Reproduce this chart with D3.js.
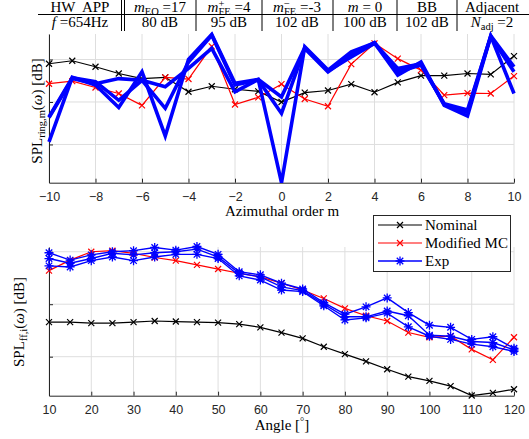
<!DOCTYPE html>
<html>
<head>
<meta charset="utf-8">
<script src="https://cdn.jsdelivr.net/npm/d3@7"></script>
<style>
  body { margin: 0; background: #fff; }
  svg { display: block; }
  .serif, .serif tspan { font-family: "Liberation Serif", "DejaVu Serif", serif; }
</style>
</head>
<body>
<svg id="chart" width="529" height="439"></svg>
<script>
// ---- data ----
const azOrders = [-10, -9, -8, -7, -6, -5, -4, -3, -2, -1, 0, 1, 2, 3, 4, 5, 6, 7, 8, 9, 10];
const ringNominal = [99.0, 99.7, 98.3, 96.7, 95.5, 95.8, 92.4, 93.7, 93.0, 92.5, 90.0, 92.2, 92.7, 94.2, 92.3, 94.6, 96.2, 96.2, 96.7, 96.5, 100.8];
const ringModMC = [94.3, 94.9, 93.4, 92.0, 89.2, 95.8, 95.4, 103.1, 89.4, 91.1, 94.2, 90.7, 89.0, 98.9, 103.8, 100.2, 97.5, 91.6, 92.1, 92.0, 96.1];
const ringExp1 = [80.6, 95.8, 94.0, 88.7, 97.1, 82.0, 100.0, 105.9, 94.4, 95.3, 71.0, 103.0, 97.5, 101.8, 103.9, 96.3, 99.4, 89.2, 86.7, 105.5, 92.0];
const ringExp2 = [86.5, 95.7, 94.8, 90.4, 95.1, 88.5, 99.4, 105.7, 94.0, 95.2, 87.3, 102.6, 97.1, 101.0, 104.0, 97.1, 98.7, 89.6, 88.1, 105.4, 97.1];
const ringExp3 = [86.3, 95.5, 94.3, 95.5, 95.1, 93.6, 97.9, 102.6, 92.4, 95.3, 91.2, 102.8, 97.3, 100.6, 103.8, 97.9, 99.0, 89.4, 87.6, 105.6, 98.3];

const angles = [10, 15, 20, 25, 30, 35, 40, 45, 50, 55, 60, 65, 70, 75, 80, 85, 90, 95, 100, 105, 110, 115, 120];
const ffNominal = [86.6, 86.6, 86.4, 86.4, 86.6, 86.8, 86.7, 86.6, 86.5, 86.2, 85.6, 84.6, 83.5, 81.9, 80.5, 79.1, 77.6, 76.2, 75.4, 74.4, 72.6, 73.1, 73.8];
const ffModMC = [96.4, 98.4, 100.0, 100.2, 99.7, 98.9, 98.3, 97.5, 96.7, 95.9, 95.2, 94.0, 92.7, 91.1, 89.2, 87.8, 86.8, 84.6, 83.7, 83.9, 81.4, 79.4, 83.7];
const ffExp1 = [99.8, 98.4, 99.4, 100.0, 100.2, 100.8, 100.3, 101.0, 99.5, 96.2, 95.6, 94.0, 92.9, 90.3, 88.1, 89.5, 91.2, 88.4, 86.0, 85.6, 83.3, 83.8, 81.6];
const ffExp2 = [98.7, 97.8, 98.7, 99.7, 99.4, 99.8, 100.0, 100.5, 99.0, 95.9, 95.2, 93.3, 92.6, 90.0, 87.6, 87.6, 88.7, 87.8, 84.1, 83.9, 82.9, 82.7, 81.3];
const ffExp3 = [97.3, 97.1, 98.3, 99.0, 98.3, 99.0, 99.5, 99.5, 98.7, 95.4, 94.6, 92.7, 92.4, 89.7, 87.0, 87.4, 88.3, 85.7, 83.9, 83.3, 82.4, 81.9, 81.0];

const ringTicks = [-10, -8, -6, -4, -2, 0, 2, 4, 6, 8, 10];
const angleTicks = [10, 20, 30, 40, 50, 60, 70, 80, 90, 100, 110, 120];
const dbTicks = [80, 90, 100];

const legendNames = ['Nominal', 'Modified MC', 'Exp'];

// table: each cell is a list of text parts (i = italic, s = sub/sup, stack = under previous)
const tableHeader = [
  [{ t: 'HW  APP' }],
  [{ t: 'm', i: true }, { t: 'EO', s: 'sub' }, { t: ' =17' }],
  [{ t: 'm', i: true }, { t: '+', s: 'sup' }, { t: 'FE', s: 'sub', stack: true }, { t: ' =4' }],
  [{ t: 'm', i: true }, { t: '\u2212', s: 'sup' }, { t: 'FE', s: 'sub', stack: true }, { t: ' =-3' }],
  [{ t: 'm', i: true }, { t: ' = 0' }],
  [{ t: 'BB' }],
  [{ t: 'Adjacent' }]
];
const tableValues = [
  [{ t: 'f', i: true }, { t: ' =654Hz' }],
  [{ t: '80 dB' }],
  [{ t: '95 dB' }],
  [{ t: '102 dB' }],
  [{ t: '100 dB' }],
  [{ t: '102 dB' }],
  [{ t: 'N', i: true }, { t: 'adj', s: 'sub' }, { t: ' =2' }]
];

// ---- layout ----
const SANS = '"Liberation Sans", Arial, sans-serif';
const AXIS = '#262626';
const GRID = '#dedede';

const svg = d3.select('#chart');

function rich(sel, parts, x, y, size, anchor) {
  const t = sel.append('text').attr('class', 'serif')
    .attr('font-size', size).attr('fill', '#000').style('white-space', 'pre');
  const spans = parts.map(p => t.append('tspan')
    .text(p.t)
    .attr('font-size', p.s ? size * 0.7 : size)
    .attr('font-style', p.i ? 'italic' : 'normal'));
  let cursor = 0, prevStart = 0;
  const offs = spans.map((s, k) => {
    const w = s.node().getComputedTextLength();
    const start = parts[k].stack ? prevStart : cursor;
    prevStart = start;
    cursor = Math.max(cursor, start + w);
    return start;
  });
  const x0 = anchor === 'middle' ? x - cursor / 2 : x;
  spans.forEach((s, k) => {
    const p = parts[k];
    const dy = p.s === 'sub' ? size * 0.22 : p.s === 'sup' ? -size * 0.32 : 0;
    s.attr('x', x0 + offs[k]).attr('y', y + dy);
  });
  return t;
}

function xMark(g, px, py, color, r) {
  g.append('path')
    .attr('d', `M${px - r},${py - r}L${px + r},${py + r}M${px - r},${py + r}L${px + r},${py - r}`)
    .attr('stroke', color).attr('stroke-width', 1.2).attr('fill', 'none');
}
function starMark(g, px, py, color, r) {
  const a = r * 0.72;
  g.append('path')
    .attr('d', `M${px},${py - r}V${py + r}M${px - r},${py}H${px + r}M${px - a},${py - a}L${px + a},${py + a}M${px - a},${py + a}L${px + a},${py - a}`)
    .attr('stroke', color).attr('stroke-width', 1.3).attr('fill', 'none');
}

// ---- table ----
const colCenters = [80, 160, 229, 297, 365, 427, 492];
const table = svg.append('g');
table.append('line').attr('x1', 38).attr('x2', 529).attr('y1', 14.5).attr('y2', 14.5)
  .attr('stroke', '#000').attr('stroke-width', 1);
[121.5, 124.5, 196, 262, 333, 397, 457].forEach(vx => {
  table.append('line').attr('x1', vx).attr('x2', vx).attr('y1', 0).attr('y2', 31)
    .attr('stroke', '#000').attr('stroke-width', 1);
});
tableHeader.forEach((cell, k) => rich(table, cell, colCenters[k], 11.5, 15, 'middle'));
tableValues.forEach((cell, k) => rich(table, cell, colCenters[k], 27, 15, 'middle'));

// ---- panel helper ----
function panel(opts) {
  const x = d3.scaleLinear().domain(opts.xDomain).range([49, 514]);
  const y = d3.scaleLinear().domain(opts.yDomain).range([opts.bottom, opts.top]);
  const g = svg.append('g');

  opts.xTicks.forEach(v => g.append('line')
    .attr('x1', x(v)).attr('x2', x(v)).attr('y1', opts.top).attr('y2', opts.bottom)
    .attr('stroke', GRID).attr('stroke-width', 1));
  dbTicks.forEach(v => g.append('line')
    .attr('x1', 49).attr('x2', 514).attr('y1', y(v)).attr('y2', y(v))
    .attr('stroke', GRID).attr('stroke-width', 1));

  const xa = g.append('g').attr('transform', `translate(0,${opts.bottom})`)
    .call(d3.axisBottom(x).tickValues(opts.xTicks).tickSizeInner(-4).tickSizeOuter(0).tickPadding(9.5));
  xa.selectAll('text').attr('font-family', SANS).attr('font-size', 12.5).attr('fill', AXIS);
  xa.selectAll('line, path').attr('stroke', AXIS);

  const ya = g.append('g').attr('transform', 'translate(49,0)')
    .call(d3.axisLeft(y).tickValues(dbTicks).tickFormat('').tickSizeInner(-4).tickSizeOuter(0));
  ya.selectAll('line, path').attr('stroke', AXIS);

  const line = d3.line().x((d, k) => x(opts.xs[k])).y(d => y(d));
  opts.series.forEach(s => {
    g.append('path').datum(s.values).attr('d', line)
      .attr('fill', 'none').attr('stroke', s.color).attr('stroke-width', s.width)
      .attr('stroke-linejoin', 'miter');
    if (s.marker) s.values.forEach((v, k) => s.marker(g, x(opts.xs[k]), y(v), s.color, s.size));
  });
  return { g, x, y };
}

// top: ring spectrum
panel({
  xDomain: [-10, 10], yDomain: [71, 106], top: 34, bottom: 182.7,
  xTicks: ringTicks, xs: azOrders,
  series: [
    { values: ringNominal, color: '#000', width: 1.2, marker: xMark, size: 3 },
    { values: ringModMC, color: '#ff0000', width: 1.2, marker: xMark, size: 3 },
    { values: ringExp1, color: '#0000ff', width: 3.6 },
    { values: ringExp2, color: '#0000ff', width: 3.6 },
    { values: ringExp3, color: '#0000ff', width: 3.6 }
  ]
});

// bottom: far-field directivity
panel({
  xDomain: [10, 120], yDomain: [72.57, 100.9], top: 247, bottom: 395.7,
  xTicks: angleTicks, xs: angles,
  series: [
    { values: ffNominal, color: '#000', width: 1.2, marker: xMark, size: 3 },
    { values: ffModMC, color: '#ff0000', width: 1.2, marker: xMark, size: 3 },
    { values: ffExp1, color: '#0000ff', width: 1.4, marker: starMark, size: 4.5 },
    { values: ffExp2, color: '#0000ff', width: 1.4, marker: starMark, size: 4.5 },
    { values: ffExp3, color: '#0000ff', width: 1.4, marker: starMark, size: 4.5 }
  ]
});

// axis labels
rich(svg, [{ t: 'Azimuthal order m' }], 282, 216, 15, 'middle');
rich(svg, [{ t: 'Angle [' }, { t: '\u00b0', s: 'sup' }, { t: ']' }], 282, 429.5, 15, 'middle');

const yl1 = svg.append('g').attr('transform', 'translate(42,111) rotate(-90)');
rich(yl1, [{ t: 'SPL' }, { t: 'ring,m', s: 'sub' }, { t: '(' }, { t: '\u03c9', i: true }, { t: ') [dB]' }], 0, 0, 15, 'middle');
const yl2 = svg.append('g').attr('transform', 'translate(24,322) rotate(-90)');
rich(yl2, [{ t: 'SPL' }, { t: 'ff,i', s: 'sub' }, { t: '(' }, { t: '\u03c9', i: true }, { t: ') [dB]' }], 0, 0, 15, 'middle');

// legend
const lg = svg.append('g');
lg.append('rect').attr('x', 373.5).attr('y', 215.5).attr('width', 137).attr('height', 56)
  .attr('fill', '#fff').attr('stroke', AXIS).attr('stroke-width', 1);
const legendStyles = [
  { color: '#000', width: 1.2, marker: xMark, size: 3 },
  { color: '#ff0000', width: 1.2, marker: xMark, size: 3 },
  { color: '#0000ff', width: 1.4, marker: starMark, size: 4.5 }
];
legendNames.forEach((name, k) => {
  const ly = 225 + k * 18;
  const st = legendStyles[k];
  lg.append('line').attr('x1', 378).attr('x2', 422).attr('y1', ly).attr('y2', ly)
    .attr('stroke', st.color).attr('stroke-width', st.width);
  st.marker(lg, 400, ly, st.color, st.size);
  rich(lg, [{ t: name }], 425, ly + 5, 15, 'start');
});
</script>
</body>
</html>
